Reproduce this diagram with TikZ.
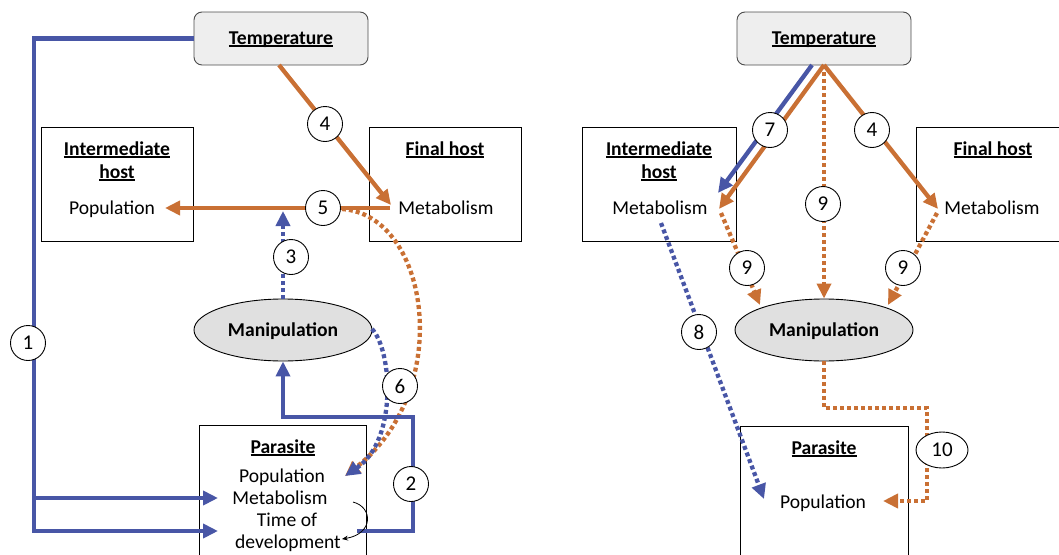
\documentclass[tikz,border=0pt]{standalone}
\usepackage{fontspec}
\setmainfont{Carlito}
\usetikzlibrary{arrows.meta,shapes.geometric}
\definecolor{myblue}{RGB}{72,86,166}
\definecolor{myorange}{RGB}{201,112,52}
\definecolor{tempfill}{RGB}{238,238,238}
\definecolor{manfill}{RGB}{224,224,224}
\newcommand{\ulb}[1]{\setbox0\hbox{\bfseries #1}\leavevmode\rlap{\rule[-2.8pt]{\wd0}{1.6pt}}\box0}
\tikzset{
  bl/.style={draw=myblue, line width=4.3pt},
  orl/.style={draw=myorange, line width=4.3pt},
  dotl/.style={dash pattern=on 4pt off 3pt},
  tipA/.style={-{Triangle[length=15pt,width=14pt]}},
  num/.style={circle, draw, fill=white, minimum size=35pt, inner sep=0pt, line width=0.9pt, font=\fontsize{21}{24}\selectfont},
  box/.style={draw, line width=1pt, inner sep=0pt},
  tempbox/.style={draw=black!70, fill=tempfill, rounded corners=8pt, minimum width=174pt, minimum height=53pt, line width=0.9pt, inner sep=0pt},
  manbox/.style={ellipse, draw, fill=manfill, minimum width=178pt, minimum height=62pt, inner sep=0pt, line width=0.9pt},
  txt/.style={inner sep=0pt, text height=12.5pt, text depth=0pt}
}
\begin{document}
\begin{tikzpicture}[x=1pt,y=-1pt,font=\fontsize{19.6}{23}\selectfont]
\useasboundingbox (0,0) rectangle (1059,554);
% ---------------- left panel ----------------
\node[tempbox] (T1) at (281,38.5) {};
\node[txt] (T1t) at (281,38) {\ulb{Temperature}};
\node[box, minimum width=152pt, minimum height=114pt] (IH1) at (117,184) {};
\node[txt] (IH1a) at (117,149) {\ulb{Intermediate}};
\node[txt] (IH1b) at (117,172) {\ulb{host}};
\node[txt] (IH1p) at (112,208) {Population};
\node[box, minimum width=152pt, minimum height=114pt] (FH1) at (445,184) {};
\node[txt] (FH1a) at (445,149) {\ulb{Final host}};
\node[txt] (FH1m) at (446,208) {Metabolism};
\node[manbox] (M1) at (283,330) {};
\node[txt] (M1t) at (283,330) {\textbf{Manipulation}};
\node[box, minimum width=167pt, minimum height=150pt] (P1) at (282.5,500) {};
\node[txt] (P1a) at (283,447) {\ulb{Parasite}};
\node[txt] (P1p) at (282,476) {Population};
\node[txt] (P1m) at (280,498) {Metabolism};
\node[txt] (P1t) at (287,520) {Time of};
\node[txt] (P1d) at (288,542) {development};

\coordinate (c1a) at (34,38.5);
\coordinate (c1b) at (34,531);
\coordinate (c1c) at (34,498);
\coordinate (e1a) at (218,531);
\coordinate (e1b) at (218,498);
\draw[bl, tipA, line join=miter] (T1.west) -- (c1a) -- (c1b) -- (e1a);
\draw[bl, tipA] (c1c) -- (e1b);

\coordinate (s4) at (279,65);
\coordinate (e4) at (391,205);
\draw[orl, tipA] (s4) -- (e4);
\coordinate (s5) at (390,208);
\coordinate (e5) at (165,208);
\draw[orl, tipA] (s5) -- (e5);
\coordinate (e3) at (283,211);
\draw[bl, dotl, tipA] (M1.north) -- (e3);

\coordinate (s6o) at (342,209);
\coordinate (e6) at (345,476);
\draw[orl, dotl, tipA] (s6o) .. controls (430,215) and (455,390) .. (e6);
\coordinate (s6b) at (372,329);
\draw[bl, dotl, tipA] (s6b) .. controls (392,350) and (398,440) .. (e6);

\coordinate (s2) at (357,531);
\coordinate (c2a) at (413,531);
\coordinate (c2b) at (413,417);
\coordinate (c2c) at (283,417);
\draw[bl, tipA, line join=miter] (s2) -- (c2a) -- (c2b) -- (c2c) -- (M1.south);

\coordinate (sk) at (353,502);
\coordinate (ek) at (342,539);
\draw[black, line width=0.8pt, -{Stealth[length=6pt,width=5pt]}] (sk) .. controls (373,507) and (374,534) .. (ek);

\node[num] (n1) at (28,343) {1};
\node[num] (n4) at (325,124) {4};
\node[num] (n5) at (323,208) {5};
\node[num] (n3) at (291,257) {3};
\node[num] (n6) at (400,386) {6};
\node[num] (n2) at (411,484) {2};

% ---------------- right panel ----------------
\node[tempbox] (T2) at (824,38.5) {};
\node[txt] (T2t) at (824,38) {\ulb{Temperature}};
\node[box, minimum width=154pt, minimum height=114pt] (IH2) at (659,184) {};
\node[txt] (IH2a) at (659,149) {\ulb{Intermediate}};
\node[txt] (IH2b) at (659,172) {\ulb{host}};
\node[txt] (IH2m) at (660,208) {Metabolism};
\node[box, minimum width=160pt, minimum height=114pt] (FH2) at (996,184) {};
\node[txt] (FH2a) at (993,149) {\ulb{Final host}};
\node[txt] (FH2m) at (992,208) {Metabolism};
\node[manbox] (M2) at (824,330) {};
\node[txt] (M2t) at (824,330) {\textbf{Manipulation}};
\node[box, minimum width=168pt, minimum height=150pt] (P2) at (824,501) {};
\node[txt] (P2a) at (824,448) {\ulb{Parasite}};
\node[txt] (P2p) at (823,502) {Population};

\coordinate (s7b) at (812,65);
\coordinate (e7b) at (718,193);
\draw[bl, tipA] (s7b) -- (e7b);
\coordinate (top2) at (824,65);
\coordinate (e7o) at (719,209);
\draw[orl, tipA] (top2) -- (e7o);
\coordinate (e4r) at (938,209);
\draw[orl, tipA] (top2) -- (e4r);
\draw[orl, dotl, tipA] (top2) -- (M2.north);
\coordinate (s9l) at (721,213);
\coordinate (e9l) at (760,305);
\draw[orl, dotl, tipA] (s9l) -- (e9l);
\coordinate (s9r) at (937,213);
\coordinate (e9r) at (888,305);
\draw[orl, dotl, tipA] (s9r) -- (e9r);
\coordinate (s8) at (661,223);
\coordinate (e8) at (764,499);
\draw[bl, dotl, tipA] (s8) -- (e8);
\coordinate (c10a) at (824,408);
\coordinate (c10b) at (927,408);
\coordinate (c10c) at (927,501);
\coordinate (e10) at (883,501);
\draw[orl, dotl, tipA] (M2.south) -- (c10a) -- (c10b) -- (c10c) -- (e10);

\node[num] (n7) at (770,130) {7};
\node[num] (n4r) at (872,130) {4};
\node[num] (n9c) at (823,204) {9};
\node[num] (n9l) at (747,268) {9};
\node[num] (n9r) at (903,268) {9};
\node[num] (n8) at (699,332) {8};
\node[num, ellipse, minimum width=52pt, minimum height=36pt] (n10) at (942,450) {10};
\end{tikzpicture}
\end{document}
